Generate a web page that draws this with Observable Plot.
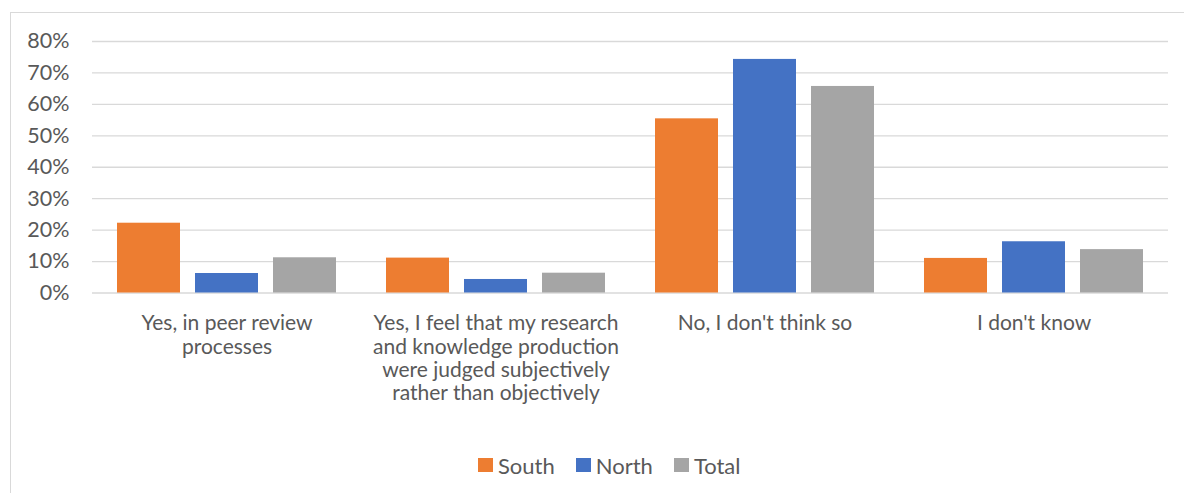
<!DOCTYPE html>
<html><head><meta charset="utf-8">
<script src="https://cdn.jsdelivr.net/npm/d3@7"></script>
<script src="https://cdn.jsdelivr.net/npm/@observablehq/plot@0.6"></script>
<style>
body{margin:0;background:#fff;font-family:Lato,"Open Sans",sans-serif;color:#595959;}
#frame{position:absolute;left:10px;top:12px;width:1200px;height:500px;border:1px solid #d9d9d9;box-sizing:border-box;}
#chart{position:absolute;left:0;top:0;}
#legend{position:absolute;top:451px;left:478px;height:28px;display:flex;align-items:center;font-size:22px;color:#595959;white-space:nowrap;}
.item{display:flex;align-items:center;margin-right:21px;}
.sw{width:15px;height:14px;margin-right:5px;display:inline-block;}
</style></head>
<body>
<div id="frame"></div>
<div id="chart"></div>
<div id="legend"></div>
<script>
const categories = ["peer", "subjective", "no", "dontknow"];
const categoryLabels = [
  "Yes, in peer review\nprocesses",
  "Yes, I feel that my research\nand knowledge production\nwere judged subjectively\nrather than objectively",
  "No, I don't think so",
  "I don't know"
];
const series = ["South", "North", "Total"];
const colors = ["#ED7D31", "#4472C4", "#A5A5A5"];
const south = [22.2, 11.1, 55.4, 11.0];
const north = [6.2, 4.3, 74.3, 16.3];
const total = [11.2, 6.3, 65.7, 13.8];
const yTicks = [0, 10, 20, 30, 40, 50, 60, 70, 80];

const seriesValues = [south, north, total];
const data = [];
categories.forEach((c, i) => {
  series.forEach((s, j) => data.push({category: c, series: s, value: seriesValues[j][i]}));
});
const labelOf = new Map(categories.map((c, i) => [c, categoryLabels[i]]));

const chart = Plot.plot({
  width: 1184,
  height: 420,
  marginLeft: 91,
  marginRight: 15,
  marginTop: 41,
  marginBottom: 127.5,
  style: {fontFamily: "Lato, 'Open Sans', sans-serif", fontSize: "21px", color: "#595959", background: "transparent"},
  fx: {domain: categories, padding: 0, label: null},
  x: {domain: series, paddingInner: 0.19, paddingOuter: 0.30, axis: null},
  y: {domain: [0, 80], label: null},
  color: {domain: series, range: colors},
  marks: [
    Plot.gridY(yTicks, {stroke: "#d9d9d9", strokeOpacity: 1, strokeWidth: 1.3}),
    Plot.barY(data, {fx: "category", x: "series", y: "value", fill: "series"}),
    Plot.axisY(yTicks, {tickSize: 0, tickPadding: 23, tickFormat: d => d + "%", label: null, fontSize: 21.5}),
    Plot.axisFx({anchor: "bottom", tickSize: 0, tickPadding: 21, tickFormat: d => labelOf.get(d), label: null, lineHeight: 1.1, fontSize: 21})
  ]
});
document.getElementById("chart").appendChild(chart);

const legend = document.getElementById("legend");
series.forEach((s, i) => {
  const item = document.createElement("span");
  item.className = "item";
  const sw = document.createElement("span");
  sw.className = "sw";
  sw.style.background = colors[i];
  item.appendChild(sw);
  item.appendChild(document.createTextNode(s));
  legend.appendChild(item);
});
</script>
</body></html>
